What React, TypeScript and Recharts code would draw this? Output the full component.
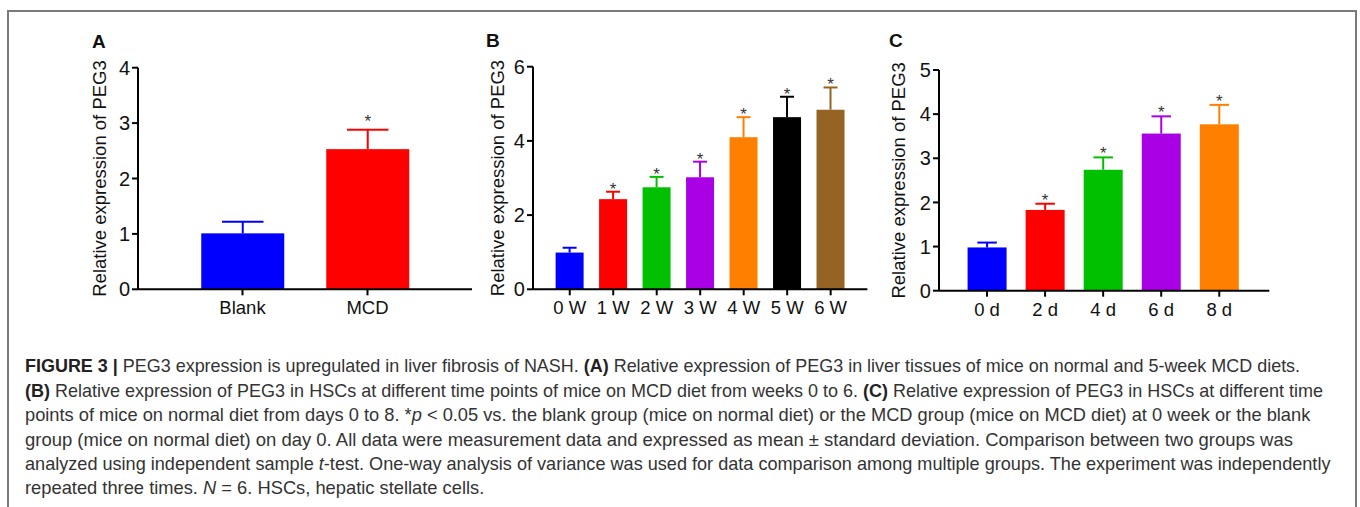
import React, { useLayoutEffect, useRef, useState } from "react";
import { BarChart, Bar, XAxis, YAxis } from "recharts";

// panel A: liver tissue
const aCategories = ["Blank", "MCD"];
const aValues = [1.01, 2.53];
const aSD = [0.21, 0.35];
const aStars = [false, true];
const aTicks = [0, 1, 2, 3, 4];

// panel B: HSCs, weeks on MCD diet
const bCategories = ["0 W", "1 W", "2 W", "3 W", "4 W", "5 W", "6 W"];
const bValues = [0.99, 2.43, 2.75, 3.02, 4.1, 4.64, 4.84];
const bSD = [0.13, 0.2, 0.28, 0.42, 0.54, 0.55, 0.6];
const bStars = [false, true, true, true, true, true, true];
const bTicks = [0, 2, 4, 6];

// panel C: HSCs, days on normal diet
const cCategories = ["0 d", "2 d", "4 d", "6 d", "8 d"];
const cValues = [0.98, 1.83, 2.74, 3.56, 3.77];
const cSD = [0.11, 0.14, 0.28, 0.39, 0.44];
const cStars = [false, true, true, true, true];
const cTicks = [0, 1, 2, 3, 4, 5];

const COLORS = ["#0000FF", "#FF0000", "#00C000", "#AA00E6", "#FF8000", "#000000", "#956323"];

const FONT = "'Liberation Sans', Arial, Helvetica, sans-serif";

function makeRows(cats: string[], vals: number[], sd: number[], stars: boolean[]) {
  return cats.map((name, i) => ({ name, value: vals[i], sd: sd[i], star: stars[i], color: COLORS[i] }));
}

function BarWithError(props: any, starGap: number) {
  const { x, y, width, height, payload } = props;
  const c = payload.color;
  const pxPerUnit = height / payload.value;
  const top = y - payload.sd * pxPerUnit;
  const cx = x + width / 2;
  const cap = width / 4;
  return (
    <g>
      <rect x={x} y={y} width={width} height={height} fill={c} />
      <line x1={cx} x2={cx} y1={y} y2={top} stroke={c} strokeWidth={2} />
      <line x1={cx - cap} x2={cx + cap} y1={top} y2={top} stroke={c} strokeWidth={2} />
      {payload.star && (
        <text x={cx} y={top - starGap + 10} textAnchor="middle" fontSize={17} fill="#333" fontFamily={FONT}>
          *
        </text>
      )}
    </g>
  );
}

type PanelProps = {
  rows: any[];
  ticks: number[];
  plotLeft: number;
  plotRight: number;
  plotTop: number;
  plotBottom: number;
  padL: number;
  padR: number;
  gap: string;
  labelOffset: number;
  starGap: number;
};

function Panel(p: PanelProps) {
  const left = p.plotLeft - 100;
  const width = p.plotRight - left + 20;
  const height = 340;
  const axisStyle = { stroke: "#000", strokeWidth: 2 };
  return (
    <div style={{ position: "absolute", left, top: 0 }}>
      <BarChart
        width={width}
        height={height}
        data={p.rows}
        margin={{ top: p.plotTop, left: 40, right: 20, bottom: height - p.plotBottom - 40 }}
        barCategoryGap={p.gap}
        style={{ fontFamily: FONT }}
      >
        <XAxis
          dataKey="name"
          height={40}
          padding={{ left: p.padL, right: p.padR }}
          axisLine={axisStyle}
          tickLine={axisStyle}
          tickSize={6}
          tickMargin={6}
          tick={{ fill: "#111", fontSize: 18.5 }}
          interval={0}
        />
        <YAxis
          width={60}
          domain={[0, p.ticks[p.ticks.length - 1]]}
          ticks={p.ticks}
          axisLine={axisStyle}
          tickLine={axisStyle}
          tickSize={6}
          tickMargin={2}
          tick={{ fill: "#111", fontSize: 20 }}
          label={{
            value: "Relative expression of PEG3",
            angle: -90,
            position: "insideLeft",
            offset: p.labelOffset,
            style: { textAnchor: "middle", fontSize: 18.5, fill: "#111" },
          }}
        />
        <Bar dataKey="value" isAnimationActive={false} shape={(s: any) => BarWithError(s, p.starGap)} />
      </BarChart>
    </div>
  );
}

const captionLines: { parts: [string, string][]; width: number }[] = [
  {
    parts: [
      ["b", "FIGURE 3 | "],
      ["", "PEG3 expression is upregulated in liver fibrosis of NASH. "],
      ["b", "(A)"],
      ["", " Relative expression of PEG3 in liver tissues of mice on normal and 5-week MCD diets."],
    ],
    width: 1275,
  },
  {
    parts: [
      ["b", "(B)"],
      ["", " Relative expression of PEG3 in HSCs at different time points of mice on MCD diet from weeks 0 to 6. "],
      ["b", "(C)"],
      ["", " Relative expression of PEG3 in HSCs at different time"],
    ],
    width: 1298,
  },
  {
    parts: [
      ["", "points of mice on normal diet from days 0 to 8. *"],
      ["i", "p"],
      ["", " < 0.05 vs. the blank group (mice on normal diet) or the MCD group (mice on MCD diet) at 0 week or the blank"],
    ],
    width: 1285,
  },
  {
    parts: [
      ["", "group (mice on normal diet) on day 0. All data were measurement data and expressed as mean \u00b1 standard deviation. Comparison between two groups was"],
    ],
    width: 1268,
  },
  {
    parts: [
      ["", "analyzed using independent sample "],
      ["i", "t"],
      ["", "-test. One-way analysis of variance was used for data comparison among multiple groups. The experiment was independently"],
    ],
    width: 1305,
  },
  {
    parts: [
      ["", "repeated three times. "],
      ["i", "N"],
      ["", " = 6. HSCs, hepatic stellate cells."],
    ],
    width: 459,
  },
];

// one caption line squeezed horizontally to the width it has in the figure
function CaptionLine({ parts, width, top }: { parts: [string, string][]; width: number; top: number }) {
  const ref = useRef<HTMLSpanElement>(null);
  const [scale, setScale] = useState(1);
  useLayoutEffect(() => {
    if (ref.current) {
      const natural = ref.current.offsetWidth;
      if (natural > 0) setScale(width / natural);
    }
  }, [width]);
  return (
    <div
      style={{
        position: "absolute",
        left: 25,
        top,
        whiteSpace: "nowrap",
        fontFamily: FONT,
        fontSize: 18.5,
        lineHeight: "24.4px",
        color: "#333",
        transform: `scaleX(${scale})`,
        transformOrigin: "0 0",
      }}
    >
      <span ref={ref} style={{ display: "inline-block" }}>
        {parts.map(([k, t], j) => (
          <span
            key={j}
            style={{
              fontWeight: k === "b" ? "bold" : "normal",
              fontStyle: k === "i" ? "italic" : "normal",
              color: k === "b" ? "#222" : "#333",
            }}
          >
            {t}
          </span>
        ))}
      </span>
    </div>
  );
}

export default function App() {
  const rowsA = makeRows(aCategories, aValues, aSD, aStars);
  const rowsB = makeRows(bCategories, bValues, bSD, bStars);
  const rowsC = makeRows(cCategories, cValues, cSD, cStars);
  return (
    <div style={{ position: "absolute", left: 0, top: 0, width: 1360, height: 507, background: "#fff", overflow: "hidden" }}>
      <div
        style={{
          position: "absolute",
          left: 7,
          top: 10,
          width: 1346,
          height: 520,
          border: "2px solid #7a7a7a",
        }}
      />
      <svg width={1360} height={340} style={{ position: "absolute", left: 0, top: 0 }} fontFamily={FONT}>
        <text x={92} y={48} fontSize={19} fontWeight="bold" fill="#111">A</text>
        <text x={486} y={47} fontSize={19} fontWeight="bold" fill="#111">B</text>
        <text x={889} y={46.5} fontSize={19} fontWeight="bold" fill="#111">C</text>
      </svg>
      {captionLines.map((ln, i) => (
        <CaptionLine key={i} parts={ln.parts} width={ln.width} top={354.4 + i * 24.4} />
      ))}
      <Panel rows={rowsA} ticks={aTicks} plotLeft={138} plotRight={472} plotTop={67.7} plotBottom={289.3}
        padL={42} padR={42} gap="17%" labelOffset={21} starGap={13} />
      <Panel rows={rowsB} ticks={bTicks} plotLeft={533.3} plotRight={867.7} plotTop={66.7} plotBottom={289.3}
        padL={15} padR={15} gap="17.5%" labelOffset={24} starGap={7} />
      <Panel rows={rowsC} ticks={cTicks} plotLeft={939} plotRight={1269.3} plotTop={70} plotBottom={290.7}
        padL={19} padR={21} gap="16.5%" labelOffset={19} starGap={8} />
    </div>
  );
}
